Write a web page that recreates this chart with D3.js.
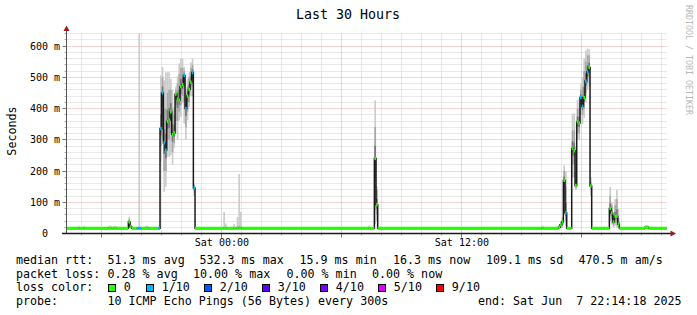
<!DOCTYPE html>
<html><head><meta charset="utf-8">
<script src="https://cdn.jsdelivr.net/npm/d3@7"></script>
<style>
html,body{margin:0;padding:0;background:#fff;}
svg{display:block;}
text{font-family:"DejaVu Sans Mono",monospace;white-space:pre;}
</style></head><body>
<svg id="c" width="697" height="315"></svg>
<script>
// ---------------- DATA ----------------
const startTime = "2025-06-06T16:14:18Z";
const endTime   = "2025-06-07T22:14:18Z";
// each segment starts at segMin minutes after startTime and lasts until the next one
const segMin  = [0,35,40,50,55,125,135,140,150,185,190,195,210,215,220,225,235,245,275,
  280,285,290,295,300,305,310,315,320,325,330,335,340,345,350,355,360,365,370,375,380,385,
  470,475,480,500,505,510,515,520,525,905,910,923,928,933,1425,1430,
  1475,1480,1485,1490,1495,1500,1515,1520,1525,1530,1535,1540,1545,1550,1555,1560,1565,1570,1575,
  1628,1633,1638,1643,1648,1653,1658,1735,1745];
const median  = [16.5,16.5,16.5,16.5,16.5,16.5,16.5,16.5,16.5,37,22,16.5,16.5,16.5,16.5,16.5,16.5,16.5,16.5,
  336,450,290,267,359,363,389,317,322,446,430,427,470,477,506,400,440,461,484,515,146,16.5,
  16.5,16.5,16.5,16.5,16.5,16.5,16.5,16.5,16.5,16.5,16.5,240,92,16.5,16.5,16.5,
  20,28,37,170,66,16.5,272,265,154,357,354,435,407,435,488,517,531,152,16.5,
  80,66,37,55,55,30,16.5,20,16.5];
const lossIdx = [0,0,0,0,0,0,0,0,0,0,0,0,1,1,1,0,0,0,1,
  1,1,1,1,0,0,0,0,0,0,0,0,0,0,1,1,0,0,0,1,1,0,
  0,0,0,0,0,0,0,0,0,0,0,0,0,0,0,0,
  0,0,0,0,1,0,0,0,0,0,0,1,1,0,1,1,0,0,0,
  0,0,0,0,0,0,0,0,0];
const smokeLo = [15.5,15.5,15.5,15.5,15.5,15.5,15.5,15.5,15.5,18,16,15.5,15.5,15.5,15.5,15.5,15.5,15.5,15.5,
  229,300,133,150,245,245,250,220,274,320,300,362,373,416,352,300,362,405,440,440,120,15.5,
  15.5,15.5,15.5,15.5,15.5,15.5,15.5,15.5,15.5,15.5,15.5,30,40,15.5,15.5,15.5,
  15,16,18,60,25,15.5,180,180,139,300,300,380,350,370,420,460,470,120,15.5,
  40,30,20,25,20,18,15.5,15.5,15.5];
const smokeHi = [18,24,18,24,18,25,18,24,18,53,28,18,18,900,18,18,24,18,18,
  506,533,490,516,516,516,495,460,404,470,502,544,560,560,533,460,495,516,548,560,160,18,
  69,32,18,30,18,53,190,69,18,25,18,426,150,18,26,18,
  28,40,53,218,200,18,384,384,277,427,430,480,500,560,585,592,590,180,18,
  149,100,60,110,139,80,18,26,18];
const innerLo = [16,16,16,16,16,16,16,16,16,25,18,16,16,16,16,16,16,16,16,
  280,360,200,200,300,300,320,260,290,360,360,390,410,440,420,340,390,420,460,470,135,16,
  16,16,16,16,16,16,16,16,16,16,16,75,60,16,16,16,
  16,18,25,110,40,16,220,220,145,320,320,400,380,400,450,480,500,140,16,
  55,45,25,35,35,22,16,17,16];
const innerHi = [17,17,17,17,17,17,17,17,17,45,26,17,17,20,17,17,17,17,17,
  450,500,400,400,450,460,460,400,380,460,480,510,530,530,520,440,470,500,530,540,155,17,
  20,18,17,18,17,22,24,22,17,17,17,341,140,17,17,17,
  24,35,45,200,150,17,330,330,200,400,400,460,470,520,550,570,570,165,17,
  120,90,50,90,110,50,17,23,17];

const lossLabels = ["0","1/10","2/10","3/10","4/10","5/10","9/10"];
const lossColors = ["#26ff00","#00b8ff","#0059ff","#5e00ff","#7e00ff","#dd00ff","#ff0000"];
const yTicks = [0,100,200,300,400,500,600];
const yTickLabels = ["0","100 m","200 m","300 m","400 m","500 m","600 m"];
const xTicks = ["2025-06-07T00:00:00Z","2025-06-07T12:00:00Z"];
const xTickLabels = ["Sat 00:00","Sat 12:00"];
const title = "Last 30 Hours";
const yTitle = "Seconds";
const legendRtt = ["median rtt:","51.3 ms avg","532.3 ms max","15.9 ms min","16.3 ms now","109.1 ms sd","470.5 m am/s"];
const legendLoss = ["packet loss:","0.28 % avg","10.00 % max","0.00 % min","0.00 % now"];
const legendColorTitle = "loss color:";
const legendProbe = ["probe:","10 ICMP Echo Pings (56 Bytes) every 300s","end: Sat Jun  7 22:14:18 2025"];
const watermark = "RRDTOOL / TOBI OETIKER";

// ---------------- DRAW ----------------
const svg = d3.select("#c");
const t0 = new Date(startTime), t1 = new Date(endTime);
const x = d3.scaleUtc().domain([t0, t1]).range([66.7, 666.7]);
const y = d3.scaleLinear().domain([0, 640]).range([233.5, 33.5]);
const tAt = m => new Date(t0.getTime() + m * 60000);
const crisp = v => Math.round(v - 0.5) + 0.5;

// grid
const grid = svg.append("g");
d3.range(20, 641, 20).forEach(v => {
  const major = v % 100 === 0;
  grid.append("line").attr("x1", 66.5).attr("x2", 667).attr("y1", crisp(y(v))).attr("y2", crisp(y(v)))
    .attr("stroke", major ? "#e4a8a8" : "#d2d2d2").attr("stroke-dasharray", "1,1");
  grid.append("line").attr("x1", major ? 62.5 : 64.5).attr("x2", 66.5).attr("y1", crisp(y(v))).attr("y2", crisp(y(v)))
    .attr("stroke", major ? "#777" : "#aaa");
});
d3.utcHour.range(t0, t1).forEach(h => {
  const major = h.getUTCHours() % 6 === 0;
  const xx = crisp(x(h));
  grid.append("line").attr("x1", xx).attr("x2", xx).attr("y1", 33.5).attr("y2", 233.5)
    .attr("stroke", major ? "#e4a8a8" : "#d2d2d2").attr("stroke-dasharray", "1,1");
  grid.append("line").attr("x1", xx).attr("x2", xx).attr("y1", 233.5).attr("y2", major ? 237.5 : 235.5)
    .attr("stroke", major ? "#777" : "#aaa");
});

// clip
svg.append("clipPath").attr("id", "pc").append("rect")
  .attr("x", 66.5).attr("y", 33.5).attr("width", 600.5).attr("height", 200);
const plot = svg.append("g").attr("clip-path", "url(#pc)");

const segs = segMin.map((m, i) => ({
  a: tAt(m), b: tAt(i + 1 < segMin.length ? segMin[i + 1] : 1800),
  med: median[i], loss: lossIdx[i], lo: smokeLo[i], hi: smokeHi[i], ilo: innerLo[i], ihi: innerHi[i]
}));

function band(lo, hi, color) {
  plot.append("g").selectAll("rect").data(segs).join("rect")
    .attr("x", d => x(d.a)).attr("width", d => x(d.b) - x(d.a))
    .attr("y", d => y(hi(d))).attr("height", d => Math.max(0, y(lo(d)) - y(hi(d))))
    .attr("fill", color);
}
band(d => d.lo, d => d.hi, "#cccccc");
band(d => d.ilo, d => d.ihi, "#a8a8a8");
band(d => d.med - (d.med - d.ilo) * 0.4, d => d.med + (d.ihi - d.med) * 0.4, "#777777");

// median line
const pts = segs.map(d => [d.a, d.med]);
pts.push([t1, segs[segs.length - 1].med]);
plot.append("path").datum(pts)
  .attr("d", d3.line().x(d => x(d[0])).y(d => y(d[1])).curve(d3.curveStepAfter))
  .attr("fill", "none").attr("stroke", "#1a1a1a").attr("stroke-width", 1.5);

// loss-coloured median marks
plot.append("g").selectAll("rect").data(segs).join("rect")
  .attr("x", d => x(d.a)).attr("width", d => x(d.b) - x(d.a))
  .attr("y", d => y(d.med) - 1.6).attr("height", 3.2)
  .attr("fill", d => lossColors[d.loss]);

// axes
svg.append("line").attr("x1", 66.5).attr("x2", 66.5).attr("y1", 234).attr("y2", 30).attr("stroke", "#555");
svg.append("line").attr("x1", 62).attr("x2", 671).attr("y1", 233.5).attr("y2", 233.5).attr("stroke", "#1a1a1a").attr("stroke-width", 1.6);
svg.append("path").attr("d", "M66.5,25.5 L63.5,31 L69.5,31 Z").attr("fill", "#9b1c1c");
svg.append("path").attr("d", "M676,233.5 L670.5,230.5 L670.5,236.5 Z").attr("fill", "#9b1c1c");

// y labels
yTicks.forEach((v, i) => {
  svg.append("text").attr("x", i === 0 ? 48 : 60).attr("y", y(v) + 3.7)
    .attr("text-anchor", "end").attr("font-size", "10px").attr("fill", "#000").text(yTickLabels[i]);
});
// x labels
xTicks.forEach((t, i) => {
  svg.append("text").attr("x", x(new Date(t))).attr("y", 245.5).attr("text-anchor", "middle")
    .attr("font-size", "10px").attr("fill", "#000").text(xTickLabels[i]);
});

// titles
svg.append("text").attr("x", 348).attr("y", 18.5).attr("text-anchor", "middle")
  .attr("font-size", "13.3px").attr("fill", "#000").text(title);
svg.append("text").attr("transform", "translate(15.5,131) rotate(-90)").attr("text-anchor", "middle")
  .attr("font-size", "11.7px").attr("fill", "#000").text(yTitle);
svg.append("text").attr("transform", "translate(685.5,5) rotate(90)")
  .attr("font-size", "8.3px").attr("fill", "#b8b8b8").text(watermark);

// legend
const fs = "11.67px";
const rttX = [16, 107.5, 199.5, 299.5, 393, 486, 578.5];
legendRtt.forEach((s, i) => svg.append("text").attr("x", rttX[i]).attr("y", 264).attr("font-size", fs).text(s));
const lossX = [16, 107.5, 193, 286.5, 372];
legendLoss.forEach((s, i) => svg.append("text").attr("x", lossX[i]).attr("y", 277.6).attr("font-size", fs).text(s));
svg.append("text").attr("x", 16).attr("y", 291.2).attr("font-size", fs).text(legendColorTitle);
let bx = 108.5;
lossLabels.forEach((s, i) => {
  svg.append("rect").attr("x", bx).attr("y", 284.5).attr("width", 7).attr("height", 7)
    .attr("fill", lossColors[i]).attr("stroke", "#000").attr("stroke-width", 1);
  svg.append("text").attr("x", bx + 15.3).attr("y", 291.2).attr("font-size", fs).text(s);
  bx += 31.33 + 6.67 * s.length;
});
const probeX = [16, 107.5, 478];
legendProbe.forEach((s, i) => svg.append("text").attr("x", probeX[i]).attr("y", 305).attr("font-size", fs).text(s));
</script>
</body></html>
